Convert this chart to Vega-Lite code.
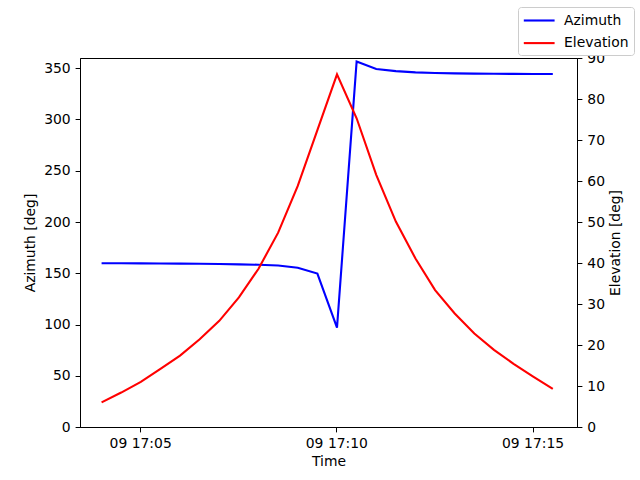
{
  "$schema": "https://vega.github.io/schema/vega-lite/v6.json",
  "autosize": {"type": "none"},
  "width": 497,
  "height": 369,
  "padding": {"left": 80, "top": 58, "right": 63, "bottom": 53},
  "config": {
    "font": "DejaVu Sans",
    "view": {"stroke": "black", "strokeWidth": 1},
    "axis": {
      "grid": false,
      "domainColor": "black",
      "tickColor": "black",
      "labelColor": "black",
      "titleColor": "black",
      "labelFontSize": 13.9,
      "titleFontSize": 13.9,
      "titleFontWeight": "normal",
      "tickSize": 4.9,
      "labelPadding": 4.9
    }
  },
  "data": {
    "values": [
      {"time": "2024-01-09T17:04:01", "azimuth": 159.8, "elevation": 6.0},
      {"time": "2024-01-09T17:04:31", "azimuth": 159.7, "elevation": 8.4},
      {"time": "2024-01-09T17:05:01", "azimuth": 159.6, "elevation": 11.0},
      {"time": "2024-01-09T17:05:31", "azimuth": 159.5, "elevation": 14.2},
      {"time": "2024-01-09T17:06:01", "azimuth": 159.4, "elevation": 17.4},
      {"time": "2024-01-09T17:06:31", "azimuth": 159.2, "elevation": 21.4},
      {"time": "2024-01-09T17:07:01", "azimuth": 159.0, "elevation": 25.9},
      {"time": "2024-01-09T17:07:31", "azimuth": 158.7, "elevation": 31.6},
      {"time": "2024-01-09T17:08:01", "azimuth": 158.3, "elevation": 38.6},
      {"time": "2024-01-09T17:08:31", "azimuth": 157.6, "elevation": 47.4},
      {"time": "2024-01-09T17:09:01", "azimuth": 155.4, "elevation": 58.8},
      {"time": "2024-01-09T17:09:31", "azimuth": 149.7, "elevation": 72.4},
      {"time": "2024-01-09T17:10:01", "azimuth": 97.0, "elevation": 86.0},
      {"time": "2024-01-09T17:10:31", "azimuth": 356.5, "elevation": 75.3},
      {"time": "2024-01-09T17:11:01", "azimuth": 349.2, "elevation": 61.5},
      {"time": "2024-01-09T17:11:31", "azimuth": 347.2, "elevation": 50.1},
      {"time": "2024-01-09T17:12:01", "azimuth": 346.0, "elevation": 41.1},
      {"time": "2024-01-09T17:12:31", "azimuth": 345.4, "elevation": 33.4},
      {"time": "2024-01-09T17:13:01", "azimuth": 345.0, "elevation": 27.7},
      {"time": "2024-01-09T17:13:31", "azimuth": 344.8, "elevation": 22.8},
      {"time": "2024-01-09T17:14:01", "azimuth": 344.6, "elevation": 18.8},
      {"time": "2024-01-09T17:14:31", "azimuth": 344.5, "elevation": 15.4},
      {"time": "2024-01-09T17:15:01", "azimuth": 344.4, "elevation": 12.3},
      {"time": "2024-01-09T17:15:31", "azimuth": 344.4, "elevation": 9.3}
    ]
  },
  "layer": [
    {
      "mark": {"type": "line", "strokeWidth": 2.1},
      "encoding": {
        "x": {
          "field": "time",
          "type": "temporal",
          "title": "Time",
          "scale": {
            "domain": [
              {"year": 2024, "month": 1, "date": 9, "hours": 17, "minutes": 3, "seconds": 28},
              {"year": 2024, "month": 1, "date": 9, "hours": 17, "minutes": 16, "seconds": 8}
            ],
            "nice": false
          },
          "axis": {
            "format": "%d %H:%M",
            "values": [
              {"year": 2024, "month": 1, "date": 9, "hours": 17, "minutes": 5},
              {"year": 2024, "month": 1, "date": 9, "hours": 17, "minutes": 10},
              {"year": 2024, "month": 1, "date": 9, "hours": 17, "minutes": 15}
            ],
            "labelFlush": false,
            "titlePadding": 4
          }
        },
        "y": {
          "field": "azimuth",
          "type": "quantitative",
          "title": "Azimuth [deg]",
          "scale": {"domain": [0, 360], "nice": false},
          "axis": {"values": [0, 50, 100, 150, 200, 250, 300, 350], "titlePadding": 6}
        },
        "color": {
          "datum": "Azimuth",
          "scale": {"domain": ["Azimuth", "Elevation"], "range": ["#0000ff", "#ff0000"]},
          "legend": {
            "title": null,
            "orient": "none",
            "legendX": 438,
            "legendY": -51,
            "padding": 5,
            "symbolType": "M-1.1,0L3.3,0",
            "symbolSize": 196,
            "symbolStrokeWidth": 2.1,
            "labelOffset": 24,
            "rowPadding": 6.6,
            "labelFontSize": 13.9,
            "labelColor": "black",
            "strokeColor": "#cccccc",
            "fillColor": "white",
            "cornerRadius": 3
          }
        }
      }
    },
    {
      "mark": {"type": "line", "strokeWidth": 2.1},
      "encoding": {
        "x": {"field": "time", "type": "temporal"},
        "y": {
          "field": "elevation",
          "type": "quantitative",
          "title": "Elevation [deg]",
          "scale": {"domain": [0, 90], "nice": false},
          "axis": {"orient": "right", "values": [0, 10, 20, 30, 40, 50, 60, 70, 80, 90], "titleAngle": 270, "titleBaseline": "top", "titlePadding": 4}
        },
        "color": {"datum": "Elevation"}
      }
    }
  ],
  "resolve": {"scale": {"y": "independent"}}
}
